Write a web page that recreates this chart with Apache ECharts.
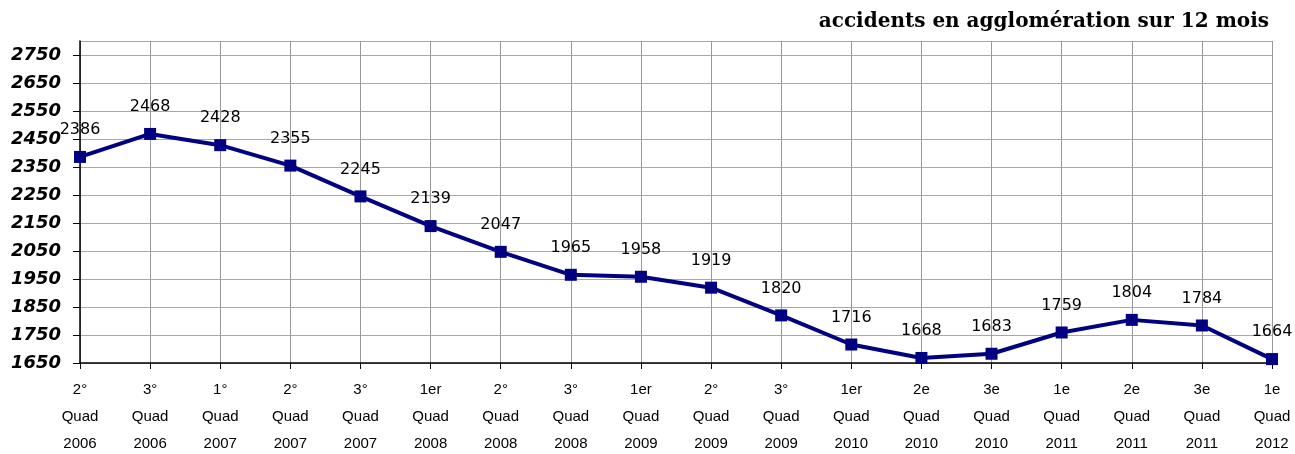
<!DOCTYPE html>
<html>
<head>
<meta charset="utf-8">
<script src="https://cdn.jsdelivr.net/npm/echarts@6/dist/echarts.min.js"></script>
<style>
  html, body { margin: 0; padding: 0; background: #fff; }
  #chart { width: 1295px; height: 454px; }
</style>
</head>
<body>
<div id="chart"></div>
<script>
var categories = [
  '2°\nQuad\n2006', '3°\nQuad\n2006', '1°\nQuad\n2007', '2°\nQuad\n2007',
  '3°\nQuad\n2007', '1er\nQuad\n2008', '2°\nQuad\n2008', '3°\nQuad\n2008',
  '1er\nQuad\n2009', '2°\nQuad\n2009', '3°\nQuad\n2009', '1er\nQuad\n2010',
  '2e\nQuad\n2010', '3e\nQuad\n2010', '1e\nQuad\n2011', '2e\nQuad\n2011',
  '3e\nQuad\n2011', '1e\nQuad\n2012'
];
var accidents = [2386, 2468, 2428, 2355, 2245, 2139, 2047, 1965, 1958, 1919,
  1820, 1716, 1668, 1683, 1759, 1804, 1784, 1664];
var yMin = 1650;
var yMax = 2800;
var yStep = 100;

var chart = echarts.init(document.getElementById('chart'));
var option = {
  animation: false,
  title: {
    text: 'accidents en agglomération sur 12 mois',
    right: 21,
    top: 7,
    textStyle: {
      fontFamily: 'DejaVu Serif',
      fontWeight: 'bold',
      fontSize: 20,
      color: '#000'
    }
  },
  grid: { left: 80, right: 23, top: 41, bottom: 91, outerBoundsMode: 'none', containLabel: false },
  xAxis: {
    type: 'category',
    data: categories,
    boundaryGap: false,
    axisLine: { lineStyle: { color: '#000', width: 1.5 } },
    axisTick: { show: true, length: 6, lineStyle: { color: '#000' } },
    axisLabel: {
      interval: 0,
      margin: 13,
      fontFamily: 'Liberation Sans',
      fontSize: 15,
      lineHeight: 27,
      color: '#000'
    },
    splitLine: { show: true, lineStyle: { color: '#999', width: 1 } }
  },
  yAxis: {
    type: 'value',
    min: yMin,
    max: yMax,
    interval: yStep,
    axisLine: { show: true, lineStyle: { color: '#000', width: 1.5 } },
    axisTick: { show: true, length: 7, lineStyle: { color: '#000' } },
    axisLabel: {
      margin: 19,
      fontFamily: 'DejaVu Sans',
      fontWeight: 'bold',
      fontStyle: 'italic',
      fontSize: 18,
      color: '#000',
      showMaxLabel: false,
      formatter: function (v) { return v === yMax ? '' : String(v); }
    },
    splitLine: { show: true, lineStyle: { color: '#a8a8a8', width: 1 } }
  },
  series: [{
    type: 'line',
    data: accidents,
    color: '#000080',
    symbol: 'rect',
    symbolSize: 12,
    lineStyle: { width: 4, color: '#000080' },
    itemStyle: { color: '#000080' },
    label: {
      show: true,
      position: 'top',
      distance: 13,
      fontFamily: 'DejaVu Sans',
      fontSize: 16,
      color: '#000'
    }
  }]
};
chart.setOption(option);
</script>
</body>
</html>
